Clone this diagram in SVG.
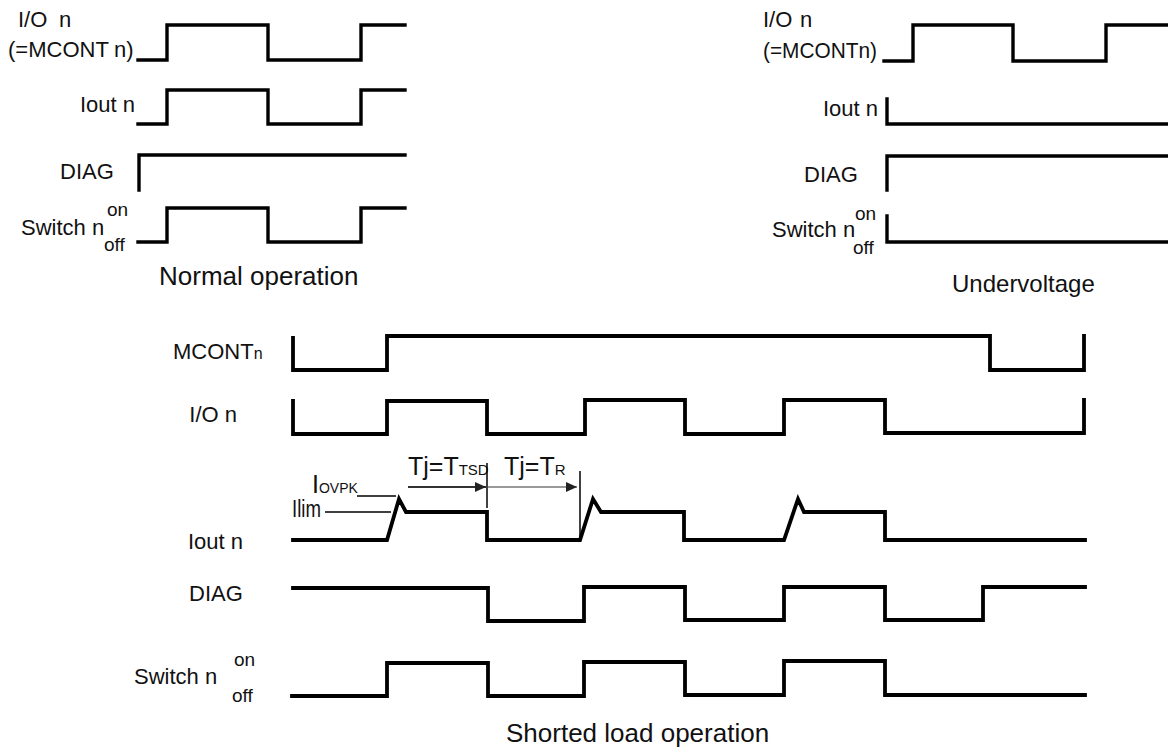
<svg xmlns="http://www.w3.org/2000/svg" width="1168" height="751" viewBox="0 0 1168 751">
<style>
  text { font-family: "Liberation Sans", Arial, sans-serif; fill: #111; }
  .lbl { font-size: 22px; }
  .sm { font-size: 19px; }
  .cap { font-size: 26px; }
  .wave { fill: none; stroke: #000; stroke-width: 3.4; stroke-linejoin: miter; stroke-linecap: square; }
  .wb { stroke-width: 3.8; }
  .thin { fill: none; stroke: #000; stroke-width: 1.5; }
</style>
<defs>
  <marker id="ah" markerWidth="12" markerHeight="10" refX="11" refY="5" orient="auto" markerUnits="userSpaceOnUse">
    <path d="M0,0 L11,5 L0,10 Z" fill="#222"/>
  </marker>
</defs>
<rect width="1168" height="751" fill="#fff"/>

<g id="normal-operation">
  <text class="lbl" x="18" y="27">I/O<tspan x="59">n</tspan></text>
  <text class="lbl" x="8" y="57">(=MCONT<tspan x="114">n)</tspan></text>
  <path class="wave" d="M138,60 H167 V25 H268 V60 H361 V25 H405"/>
  <text class="lbl" x="135" y="112" text-anchor="end">Iout n</text>
  <path class="wave" d="M138,124 H167 V90 H268 V124 H361 V90 H405"/>
  <text class="lbl" x="60" y="179">DIAG</text>
  <path class="wave" d="M139,190 V155 H405"/>
  <text class="lbl" x="21" y="235">Switch n</text>
  <text class="sm" x="107" y="216">on</text>
  <text class="sm" x="104" y="251">off</text>
  <path class="wave" d="M138,242 H167 V208 H268 V242 H361 V208 H405"/>
  <text class="cap" x="159" y="285">Normal operation</text>
</g>

<g id="undervoltage">
  <text class="lbl" x="763" y="27">I/O<tspan x="800">n</tspan></text>
  <text class="lbl" x="763" y="58" textLength="114" lengthAdjust="spacingAndGlyphs">(=MCONTn)</text>
  <path class="wave" d="M884,61 H913 V25 H1013 V61 H1106 V25 H1170"/>
  <text class="lbl" x="878" y="116" text-anchor="end">Iout n</text>
  <path class="wave" d="M887,99 V124 H1170"/>
  <text class="lbl" x="804" y="182">DIAG</text>
  <path class="wave" d="M887,190 V156 H1170"/>
  <text class="lbl" x="772" y="237">Switch n</text>
  <text class="sm" x="855" y="220">on</text>
  <text class="sm" x="853" y="254">off</text>
  <path class="wave" d="M887,216 V242 H1170"/>
  <text class="cap" x="952" y="292" style="font-size:24px">Undervoltage</text>
</g>

<g id="shorted-load">
  <text class="lbl" x="173" y="359">MCONT<tspan style="font-size:16px">n</tspan></text>
  <text class="lbl" x="237" y="422" text-anchor="end">I/O n</text>
  <text class="lbl" x="243" y="549" text-anchor="end">Iout n</text>
  <text class="lbl" x="189" y="601">DIAG</text>
  <text class="lbl" x="134" y="684">Switch n</text>
  <text class="sm" x="234" y="666">on</text>
  <text class="sm" x="232" y="702">off</text>

  <g id="annotations">
    <text x="312" y="493" style="font-size:25px">I<tspan style="font-size:14px">OVPK</tspan></text>
    <text x="292" y="517" style="font-size:23px" textLength="29" lengthAdjust="spacingAndGlyphs">Ilim</text>
    <line class="thin" x1="357" y1="496" x2="396" y2="496"/>
    <line class="thin" x1="325" y1="512" x2="391" y2="512"/>
    <text x="408" y="475" style="font-size:25px">Tj=T<tspan style="font-size:15px">TSD</tspan></text>
    <text x="504" y="475" style="font-size:25px">Tj=T<tspan style="font-size:15px">R</tspan></text>
  </g>

  <g id="connectors">
    <path class="wave wb" d="M293,338 V370 H387 V336 H990 V370 H1084 V336"/>
    <path class="wave wb" d="M293,401 V434 H387 V401 H487 V434 H585 V400 H685 V434 H784 V400 H885 V433 H1084 V400"/>
    <path class="wave wb" d="M293,540 H387 L399,499 L406,512 H487 V540 H580 L593,499 L601,512 H684 V540 H784 L798,499 L804,512 H885 V540 H1085"/>
    <path class="wave wb" d="M293,588 H488 V621 H584 V587 H685 V620 H784 V587 H885 V620 H983 V587 H1085"/>
    <path class="wave wb" d="M292,696 H387 V663 H488 V696 H584 V662 H685 V695 H784 V661 H885 V695 H1085"/>
    <line x1="408" y1="487" x2="486" y2="487" stroke="#333" stroke-width="2" marker-end="url(#ah)"/>
    <line x1="488" y1="487" x2="577" y2="487" stroke="#999" stroke-width="2" marker-end="url(#ah)"/>
    <line class="thin" x1="487" y1="463" x2="487" y2="508"/>
    <line class="thin" x1="580" y1="471" x2="580" y2="540"/>
  </g>
  <text class="cap" x="506" y="742">Shorted load operation</text>
</g>
</svg>
